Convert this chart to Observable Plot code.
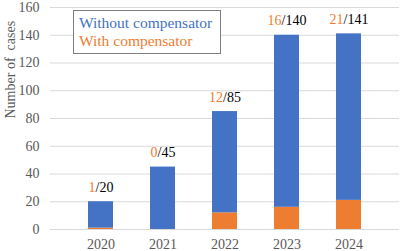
<!DOCTYPE html>
<html><head><meta charset="utf-8">
<script src="https://cdn.jsdelivr.net/npm/d3@7"></script>
<script src="https://cdn.jsdelivr.net/npm/@observablehq/plot@0.6"></script>
<style>
body{margin:0;background:#fff;}
#wrap{position:relative;width:400px;height:251px;font-family:'Liberation Serif',serif;}
#chart svg, #chart svg text{font-family:'Liberation Serif',serif !important;}
#legend{position:absolute;left:73px;top:10px;width:148px;height:44px;border:1px solid #7f7f7f;box-sizing:border-box;background:#fff;padding:2.5px 0 0 5px;font-size:15.5px;line-height:18px;}
#legend div{white-space:nowrap;}
</style></head>
<body>
<div id="wrap"><div id="chart"></div><div id="legend"></div></div>
<script>
const years = ["2020","2021","2022","2023","2024"];
const withComp = [1,0,12,16,21];
const totals = [20,45,85,140,141];
const seriesNames = ["With compensator","Without compensator"];
const seriesColors = ["#ED7D31","#4472C4"];
const yTicks = [0,20,40,60,80,100,120,140,160];
const yLabel = "Number of  cases";

const rows = [];
years.forEach((y,i)=>{
  rows.push({year:y, series:seriesNames[0], value:withComp[i]});
  rows.push({year:y, series:seriesNames[1], value:totals[i]-withComp[i]});
});
const labels = years.map((y,i)=>({year:y, w:withComp[i], total:totals[i]}));

const chart = Plot.plot({
  width:400, height:251,
  marginLeft:50, marginRight:1, marginTop:7, marginBottom:22,
  style:{fontSize:"14px", color:"#595959", background:"#fff"},
  x:{domain:years, padding:0.6, label:null, tickSize:0, tickPadding:10},
  y:{domain:[0,160], ticks:yTicks, label:null, tickSize:0, tickPadding:11},
  color:{domain:seriesNames, range:seriesColors},
  marks:[
    Plot.gridY(yTicks, {stroke:"#d9d9d9", strokeOpacity:1}),
    Plot.barY(rows, {x:"year", y:"value", fill:"series"}),
    Plot.ruleY([0], {stroke:"#d9d9d9"}),
    Plot.text(labels, {x:"year", y:"total", text:d=>`${d.w}/${d.total}`, lineAnchor:"middle", dy:-14.5, fontSize:14, fill:"#000", className:"bl"}),
    Plot.text([yLabel], {frameAnchor:"left", rotate:-90, dx:-40, fontSize:14, fill:"#595959", className:"yl"})
  ]
});
document.getElementById("chart").appendChild(chart);
d3.select(chart).selectAll(".bl text").each(function(){
  const t = this.textContent; const parts = t.split("/");
  const s = d3.select(this); s.text(null);
  s.append("tspan").attr("fill", seriesColors[0]).text(parts[0]);
  s.append("tspan").attr("fill", "#000").text("/"+parts[1]);
});
d3.select(chart).selectAll(".yl text").attr("xml:space","preserve").style("white-space","pre");
const leg = d3.select("#legend");
[1,0].forEach(i=>leg.append("div").style("color", seriesColors[i]).text(seriesNames[i]));
</script>
</body></html>
